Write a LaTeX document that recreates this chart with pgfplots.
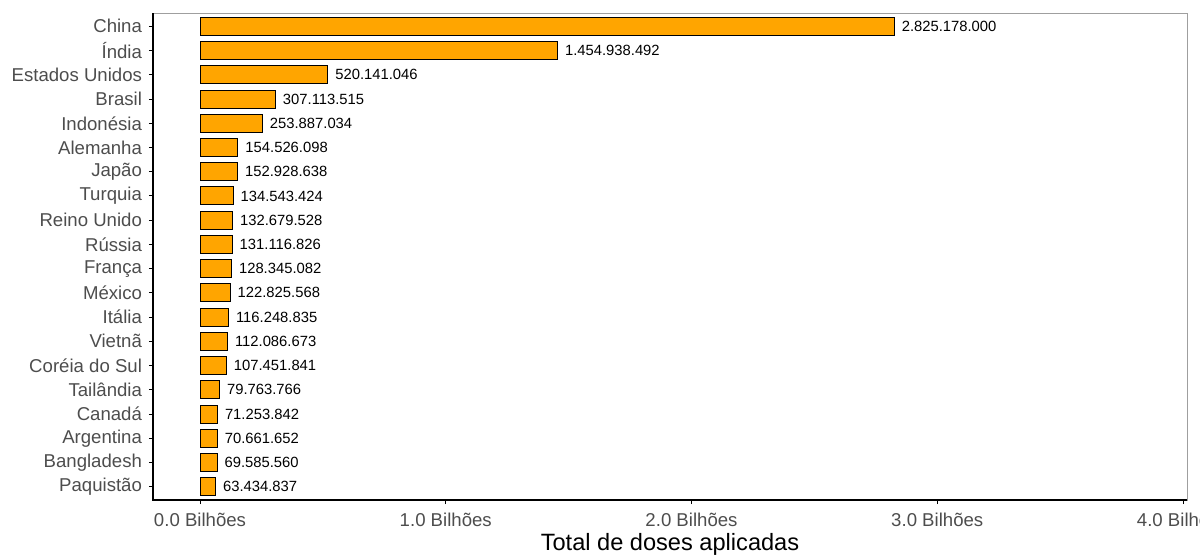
\documentclass[border=0pt]{standalone}
\usepackage{pgfplots}
\pgfplotsset{compat=1.18}
\usepackage{pgfplotstable}
\usepackage{fontspec}
\setmainfont{Liberation Sans}
\definecolor{barorange}{HTML}{FFA500}
\definecolor{tickgray}{HTML}{4D4D4D}
\pgfplotstableread[col sep=comma]{
idx,val,lab,name
0,2825178000,2.825.178.000,China
1,1454938492,1.454.938.492,Índia
2,520141046,520.141.046,Estados Unidos
3,307113515,307.113.515,Brasil
4,253887034,253.887.034,Indonésia
5,154526098,154.526.098,Alemanha
6,152928638,152.928.638,Japão
7,134543424,134.543.424,Turquia
8,132679528,132.679.528,Reino Unido
9,131116826,131.116.826,Rússia
10,128345082,128.345.082,França
11,122825568,122.825.568,México
12,116248835,116.248.835,Itália
13,112086673,112.086.673,Vietnã
14,107451841,107.451.841,Coréia do Sul
15,79763766,79.763.766,Tailândia
16,71253842,71.253.842,Canadá
17,70661652,70.661.652,Argentina
18,69585560,69.585.560,Bangladesh
19,63434837,63.434.837,Paquistão
}\data
\begin{document}
\begin{tikzpicture}
\useasboundingbox (-76.5pt,-27pt) rectangle (523.5pt,250pt);
\begin{axis}[
  scale only axis, width=517pt, height=243.5pt,
  xbar, bar width=9pt,
  xmin=-0.1913e9, xmax=4.0163e9,
  ymin=-0.55, ymax=19.55, y dir=reverse,
  ytick={0,...,19}, yticklabels from table={\data}{name},
  xtick={0,1e9,2e9,3e9,4e9},
  xticklabels={0.0 Bilhões,1.0 Bilhões,2.0 Bilhões,3.0 Bilhões,4.0 Bilhões},
  scaled x ticks=false,
  xtick pos=bottom, ytick pos=left,
  tick align=outside, major tick length=2pt,
  tick style={black, line width=0.5pt},
  ticklabel style={font=\fontsize{9.3}{10}\selectfont, text=tickgray},
  xticklabel style={yshift=-1pt},
  axis line style={gray!75, line width=0.5pt},
  xlabel={Total de doses aplicadas},
  xlabel style={font=\fontsize{11.8}{13}\selectfont, black, yshift=3.5pt},
  nodes near coords, point meta=explicit symbolic,
  nodes near coords style={anchor=west, font=\fontsize{7.4}{8}\selectfont, black, inner sep=0pt, xshift=3.5pt},
  clip=false,
]
\addplot[fill=barorange, draw=black, line width=0.5pt] table[x=val, y=idx, meta=lab]{\data};
\draw[black, line width=1pt] (axis description cs:0,1) -- (axis description cs:0,0) -- (axis description cs:1,0);
\end{axis}
\end{tikzpicture}
\end{document}
